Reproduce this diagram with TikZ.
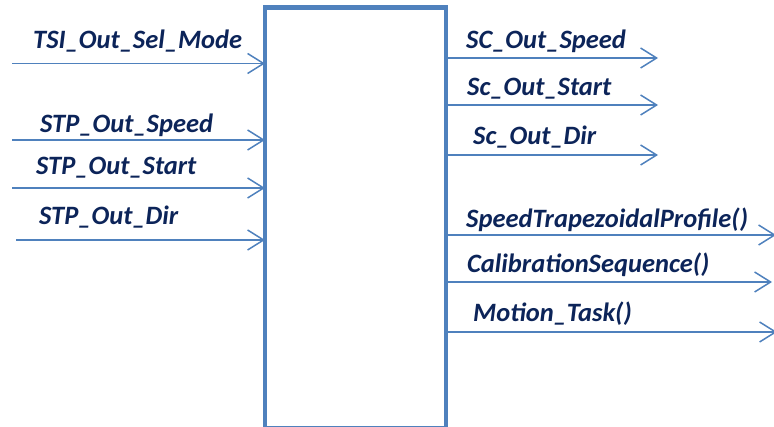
\documentclass[tikz,border=0pt]{standalone}
\usepackage{fontspec}
\setmainfont{Carlito}
\usetikzlibrary{arrows.meta}
\definecolor{lineblue}{HTML}{4F81BD}
\definecolor{textnavy}{HTML}{0C2459}
\tikzset{
  sig/.style={draw=lineblue, line width=1.5pt, -{Straight Barb[length=16pt,width=20pt,line width=1.5pt]}},
  lbl/.style={anchor=base west, inner sep=0pt, text=textnavy, font=\fontsize{26.5}{30}\selectfont\bfseries\itshape}
}
\begin{document}
\begin{tikzpicture}[x=1pt,y=-1pt]
  \useasboundingbox (0,0) rectangle (774,427);
  \node[draw=lineblue, line width=4.5pt, outer sep=0pt, inner sep=0pt, minimum width=181pt, minimum height=421pt, anchor=north west] (blk) at (265,7.5) {};

  \coordinate (tsi) at (12,63.5);
  \coordinate (stpspd) at (12,140);
  \coordinate (stpstart) at (12,188);
  \coordinate (stpdir) at (16,240);
  \draw[sig] (tsi) -- (tsi -| blk.west);
  \draw[sig] (stpspd) -- (stpspd -| blk.west);
  \draw[sig] (stpstart) -- (stpstart -| blk.west);
  \draw[sig] (stpdir) -- (stpdir -| blk.west);
  \node[lbl] (tsiL) at (33,49) {TSI\_Out\_Sel\_Mode};
  \node[lbl] (stpspdL) at (40,133) {STP\_Out\_Speed};
  \node[lbl] (stpstartL) at (36,175) {STP\_Out\_Start};
  \node[lbl] (stpdirL) at (39,225) {STP\_Out\_Dir};

  \coordinate (scspd) at (658,58);
  \coordinate (scstart) at (658,105);
  \coordinate (scdir) at (658,155);
  \coordinate (trap) at (776,235);
  \coordinate (calib) at (772,282);
  \coordinate (motion) at (777,332);
  \draw[sig] (scspd -| blk.east) -- (scspd);
  \draw[sig] (scstart -| blk.east) -- (scstart);
  \draw[sig] (scdir -| blk.east) -- (scdir);
  \draw[sig] (trap -| blk.east) -- (trap);
  \draw[sig] (calib -| blk.east) -- (calib);
  \draw[sig] (motion -| blk.east) -- (motion);
  \node[lbl] (scspdL) at (466,49) {SC\_Out\_Speed};
  \node[lbl] (scstartL) at (467,96) {Sc\_Out\_Start};
  \node[lbl] (scdirL) at (473,145) {Sc\_Out\_Dir};
  \node[lbl] (trapL) at (466,228) {SpeedTrapezoidalProfile()};
  \node[lbl] (calibL) at (467,273) {CalibrationSequence()};
  \node[lbl] (motionL) at (473,322) {Motion\_Task()};
\end{tikzpicture}
\end{document}
